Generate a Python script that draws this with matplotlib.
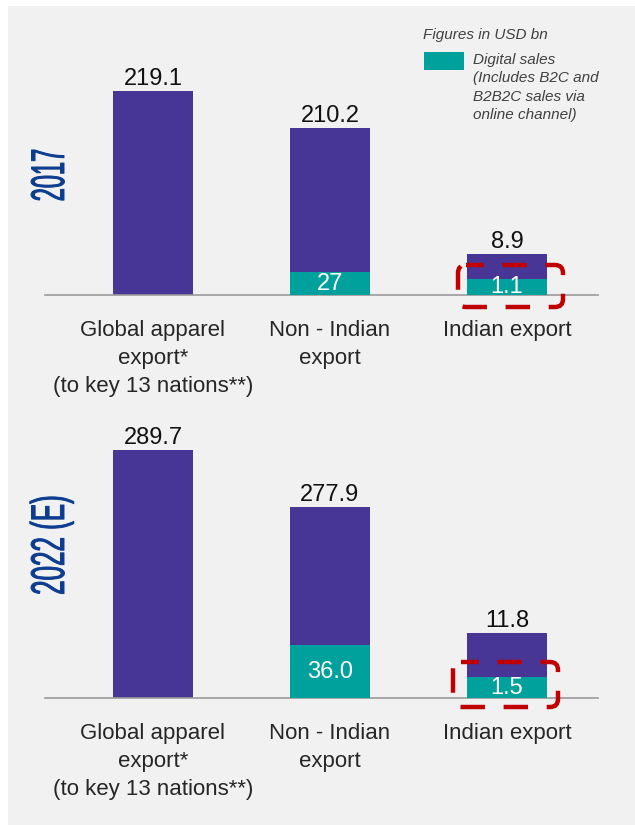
import matplotlib.pyplot as plt
import matplotlib.transforms as mtransforms
from matplotlib import patheffects
from matplotlib.patches import Rectangle, FancyBboxPatch

plt.rcParams['font.family'] = ['Liberation Sans', 'DejaVu Sans']

# figures in USD bn
categories = ['Global apparel\nexport*\n(to key 13 nations**)', 'Non - Indian\nexport', 'Indian export']
total_2017 = [219.1, 210.2, 8.9]
digital_2017 = [None, 27, 1.1]
total_2022 = [289.7, 277.9, 11.8]
digital_2022 = [None, 36.0, 1.5]
# the source does not draw bars to scale: heights as they appear
drawn_total_2017 = [219.1, 179.4, 44.0]
drawn_digital_2017 = [0, 24.7, 17.2]
drawn_total_2022 = [289.7, 223.1, 75.9]
drawn_digital_2022 = [0, 61.9, 24.5]

PURPLE = '#483696'
TEAL = '#00a19c'
RED = '#c00000'
NAVY = '#0b3c8f'

W, H = 635, 825
fig = plt.figure(figsize=(W / 100, H / 100), dpi=100)
fig.patch.set_facecolor('white')

# pixel coords (origin top-left) -> display
px = mtransforms.Affine2D().scale(1 / 100, -1 / 100).translate(0, H / 100) + fig.dpi_scale_trans

fig.patches.append(Rectangle((8, 6), W - 8, H - 6, transform=px, facecolor='#f1f1f1',
                             edgecolor='none', zorder=-5))


class Squeeze(patheffects.AbstractPathEffect):
    # narrows the glyphs (condensed face is not installed)
    def __init__(self, sx):
        super().__init__()
        self.sx = sx

    def draw_path(self, renderer, gc, tpath, affine, rgbFace=None):
        ext = tpath.get_extents()
        cx = (ext.x0 + ext.x1) / 2
        t = mtransforms.Affine2D().translate(-cx, 0).scale(self.sx, 1).translate(cx, 0) + affine
        gc0 = renderer.new_gc()
        gc0.copy_properties(gc)
        gc0.set_linewidth(0.7)
        gc0.set_foreground(rgbFace)
        renderer.draw_path(gc0, tpath, t, rgbFace)
        gc0.restore()


def panel(y_base, y_top, ylim, totals, digital, drawn_tot, drawn_dig, box):
    ax = fig.add_axes([45 / W, 1 - y_base / H, (598 - 45) / W, (y_base - y_top) / H])
    ax.set_facecolor('none')
    x = range(len(categories))
    ax.bar(x, drawn_tot, width=0.452, color=PURPLE, zorder=2)
    ax.bar(x, drawn_dig, width=0.452, color=TEAL, zorder=3)
    ax.set_xlim(-0.61, 2.514)
    ax.set_ylim(0, ylim)
    for s in ['top', 'left', 'right']:
        ax.spines[s].set_visible(False)
    ax.spines['bottom'].set_color('#9a9a9a')
    ax.spines['bottom'].set_linewidth(1.2)
    ax.set_xticks([])
    ax.set_yticks([])
    for i in x:
        ax.annotate('{:.1f}'.format(totals[i]), (i, drawn_tot[i]), xytext=(0, 1),
                    textcoords='offset points', ha='center', va='bottom',
                    fontsize=17, color='#111111')
        if digital[i] is not None:
            ax.text(i, drawn_dig[i] / 2, str(digital[i]), ha='center', va='center',
                    fontsize=17, color='white', zorder=5)
        ax.annotate(categories[i], (i, 0), xytext=(0, -18), textcoords='offset points',
                    ha='center', va='top', fontsize=16, color='#262626',
                    linespacing=1.43, annotation_clip=False)
    # dashed highlight around the Indian export bar
    bx, by, bw, bh = box
    fig.patches.append(FancyBboxPatch((bx, by), bw, bh, boxstyle='round,pad=0,rounding_size=8',
                                      transform=px, facecolor='none', edgecolor=RED,
                                      linewidth=3.2, linestyle=(1.5, (5.5, 4.2)), zorder=6))
    return ax


panel(295, 40, 255 / 0.931, total_2017, digital_2017, drawn_total_2017, drawn_digital_2017,
      (458, 265, 105, 42))
panel(698, 420, 278 / 0.856, total_2022, digital_2022, drawn_total_2022, drawn_digital_2022,
      (453, 662, 105, 45))

# year labels
fig.text(52 / W, 1 - 175 / H, '2017', rotation=90, ha='center', va='center', fontsize=34,
         color=NAVY, path_effects=[Squeeze(0.5)])
fig.text(52 / W, 1 - 545 / H, '2022 (E)', rotation=90, ha='center', va='center', fontsize=34,
         color=NAVY, path_effects=[Squeeze(0.55)])

# legend
fig.text(423 / W, 1 - 35 / H, 'Figures in USD bn', ha='left', va='center', fontsize=11,
         style='italic', color='#404040')
fig.patches.append(Rectangle((424, 52), 40, 18, transform=px, facecolor=TEAL, edgecolor='none'))
fig.text(473 / W, 1 - 53 / H, 'Digital sales\n(Includes B2C and\nB2B2C sales via\nonline channel)',
         ha='left', va='top', fontsize=11, style='italic', color='#404040', linespacing=1.4)

fig.savefig('out.png', dpi=100)
